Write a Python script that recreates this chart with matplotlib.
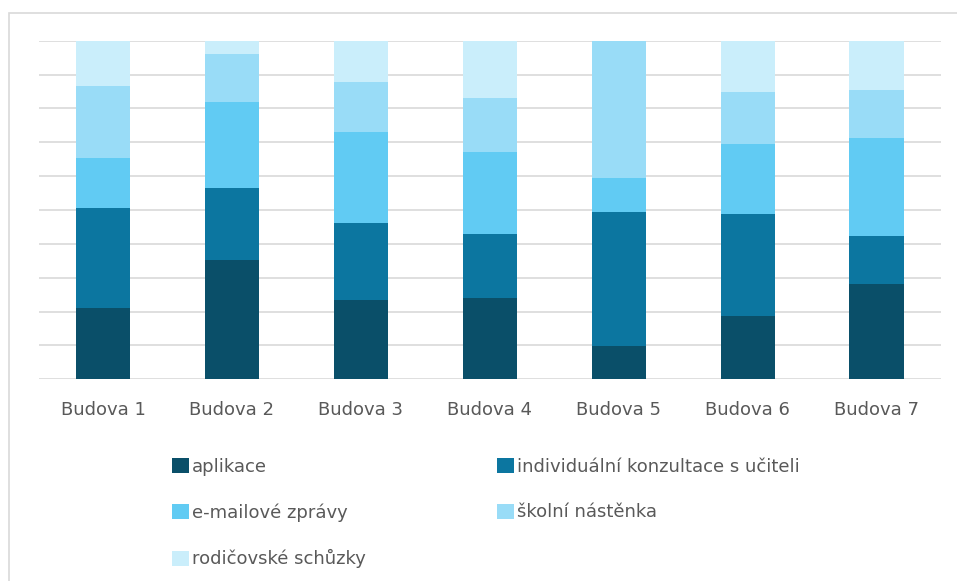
import matplotlib
matplotlib.use("Agg")
import matplotlib.pyplot as plt
from matplotlib.patches import Rectangle
import numpy as np

plt.rcParams['font.family'] = ['DejaVu Sans']

categories = ["Budova 1", "Budova 2", "Budova 3", "Budova 4", "Budova 5", "Budova 6", "Budova 7"]
series_names = ["aplikace", "individuální konzultace s učiteli", "e-mailové zprávy",
                "školní nástěnka", "rodičovské schůzky"]
aplikace = [21.0, 35.2, 23.3, 23.9, 9.8, 18.7, 28.1]
konzultace = [29.5, 21.2, 23.0, 18.9, 39.5, 30.1, 14.2]
emaily = [14.9, 25.6, 26.7, 24.3, 10.1, 20.7, 29.0]
nastenka = [21.3, 14.1, 14.8, 15.9, 40.5, 15.4, 14.2]
schuzky = [13.4, 3.9, 12.2, 16.9, 0.0, 15.2, 14.6]
colors = ["#0A4F69", "#0C76A0", "#61CBF3", "#99DCF7", "#CAEEFB"]

data = np.array([aplikace, konzultace, emaily, nastenka, schuzky], dtype=float)
data = data / data.sum(axis=0) * 100

W, H = 957, 581
fig = plt.figure(figsize=(W / 100, H / 100), dpi=100)
fig.patches.append(Rectangle((9 / W, -0.1), 1.2, (H - 13) / H + 0.1, transform=fig.transFigure,
                             fill=False, edgecolor="#d9d9d9", linewidth=1.2))

ax = fig.add_axes([38.5 / W, (H - 379.3) / H, (941 - 38.5) / W, (379.3 - 40.7) / H])
x = np.arange(len(categories))
bottom = np.zeros(len(categories))
handles = []
for vals, name, c in zip(data, series_names, colors):
    b = ax.bar(x, vals, 0.42, bottom=bottom, color=c, label=name, linewidth=0, zorder=3)
    handles.append(b)
    bottom += vals

ax.set_xlim(-0.5, len(categories) - 0.5)
ax.set_ylim(0, 100)
ax.set_yticks(np.arange(0, 101, 10))
ax.yaxis.grid(True, color="#d9d9d9", linewidth=1.2, zorder=0)
ax.tick_params(axis="y", left=False, labelleft=False)
ax.tick_params(axis="x", length=0, pad=15.5, labelsize=13, labelcolor="#595959")
ax.set_xticks(x)
ax.set_xticklabels(categories)
for s in ax.spines.values():
    s.set_visible(False)

leg_kw = dict(loc="upper left", frameon=False, fontsize=13, labelcolor="#595959",
              handlelength=0.94, handleheight=0.88, handletextpad=0.18,
              labelspacing=1.52, borderpad=0, borderaxespad=0)
leg1 = fig.legend([handles[i] for i in (0, 2, 4)], [series_names[i] for i in (0, 2, 4)],
                  bbox_to_anchor=(172 / W, 1 - 458 / H), **leg_kw)
leg2 = fig.legend([handles[i] for i in (1, 3)], [series_names[i] for i in (1, 3)],
                  bbox_to_anchor=(497 / W, 1 - 458 / H), **leg_kw)

fig.savefig("out.png", dpi=100)
